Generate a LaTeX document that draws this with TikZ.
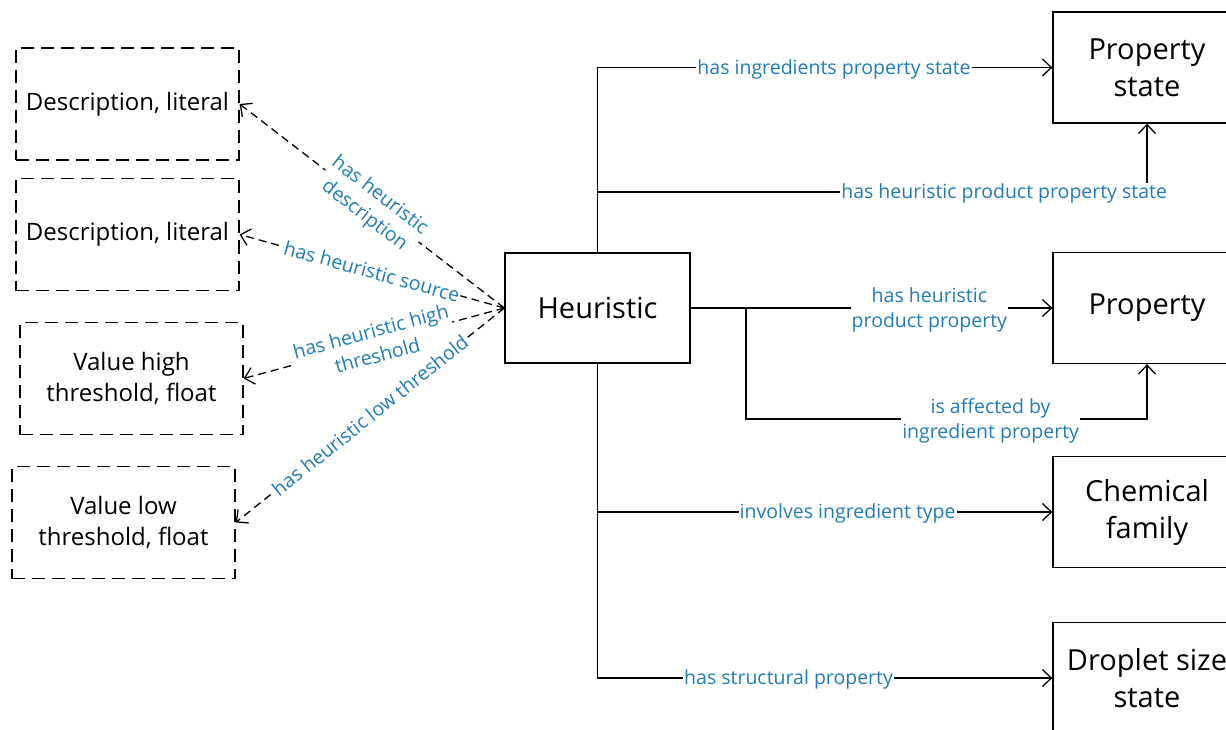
\documentclass[tikz,border=0pt]{standalone}
\usepackage{fontspec}
\setmainfont{Open Sans}
\usetikzlibrary{arrows.meta}
\definecolor{lblblue}{HTML}{1F7DB4}
\begin{document}
\begin{tikzpicture}[x=1pt,y=-1pt, line width=1.3pt,
  tipto/.style={-{Straight Barb[length=9pt,width=17pt,line width=1.3pt]}},
  dtip/.style={tipto, dash pattern=on 8pt off 5pt},
  dbox/.style={draw, dash pattern=on 13pt off 7pt, minimum width=223pt, minimum height=112pt,
     align=center, inner sep=0pt, font=\fontsize{24}{31}\selectfont},
  hbox/.style={draw, minimum width=185pt, minimum height=110pt, inner sep=0pt,
     font=\fontsize{29}{37}\selectfont},
  rbox/.style={draw, minimum width=188pt, minimum height=111pt, align=center, inner sep=0pt,
     font=\fontsize{29}{37}\selectfont},
  lbl/.style={fill=white, text=lblblue, inner sep=1pt, align=center,
     font=\fontsize{19.5}{25}\selectfont},
  hlbl/.style={lbl, yshift=-1.5pt}]
\useasboundingbox (0,0) rectangle (1226,730);
% nodes
\node[dbox] (d1) at (127.5,104) {Description, literal};
\node[dbox] (d2) at (127.5,234.5) {Description, literal};
\node[dbox] (d3) at (131.5,378.5) {Value high\\threshold, float};
\node[dbox] (d4) at (123.5,522.5) {Value low\\threshold, float};
\node[hbox] (h) at (597.5,308) {Heuristic};
\node[rbox] (ps) at (1147,67.5) {Property\\state};
\node[rbox] (p) at (1147,308) {Property};
\node[rbox] (cf) at (1147,512) {Chemical\\family};
\node[rbox] (ds) at (1147,678) {Droplet size\\state};
\coordinate (tTop) at (h.north |- ps.west);
\coordinate (tMid) at (597.5,192);
\coordinate (cMid) at (ps.south |- tMid);
\coordinate (tCf) at (h.south |- cf.west);
\coordinate (tDs) at (h.south |- ds.west);
\coordinate (br) at (746,308);
\coordinate (brDown) at (746,419);
\coordinate (brRight) at (p.south |- brDown);
% trunk connectors
\draw[tipto] (h.north) -- (tTop) -- node[hlbl,pos=0.52]{has ingredients property state} (ps.west);
\draw[tipto] (tMid) -- node[hlbl,pos=0.74]{has heuristic product property state} (cMid) -- (ps.south);
\draw[tipto] (h.east) -- node[hlbl,pos=0.66]{has heuristic\\product property} (p.west);
\draw[tipto] (br) -- (brDown) -- node[hlbl,pos=0.61]{is affected by\\ingredient property} (brRight) -- (p.south);
\draw[tipto] (h.south) -- (tCf) -- node[hlbl,pos=0.55]{involves ingredient type} (cf.west);
\draw[tipto] (tCf) -- (tDs) -- node[hlbl,pos=0.42]{has structural property} (ds.west);
% dashed connectors
\draw[dtip] (h.west) -- node[lbl,sloped,pos=0.5]{has heuristic\\description} (d1.east);
\draw[dtip] (h.west) -- node[lbl,sloped,pos=0.5]{has heuristic source} (d2.east);
\draw[dtip] (h.west) -- node[lbl,sloped,pos=0.5]{has heuristic high\\threshold} (d3.east);
\draw[dtip] (h.west) -- node[lbl,sloped,pos=0.5]{has heuristic low threshold} (d4.east);
\end{tikzpicture}
\end{document}
